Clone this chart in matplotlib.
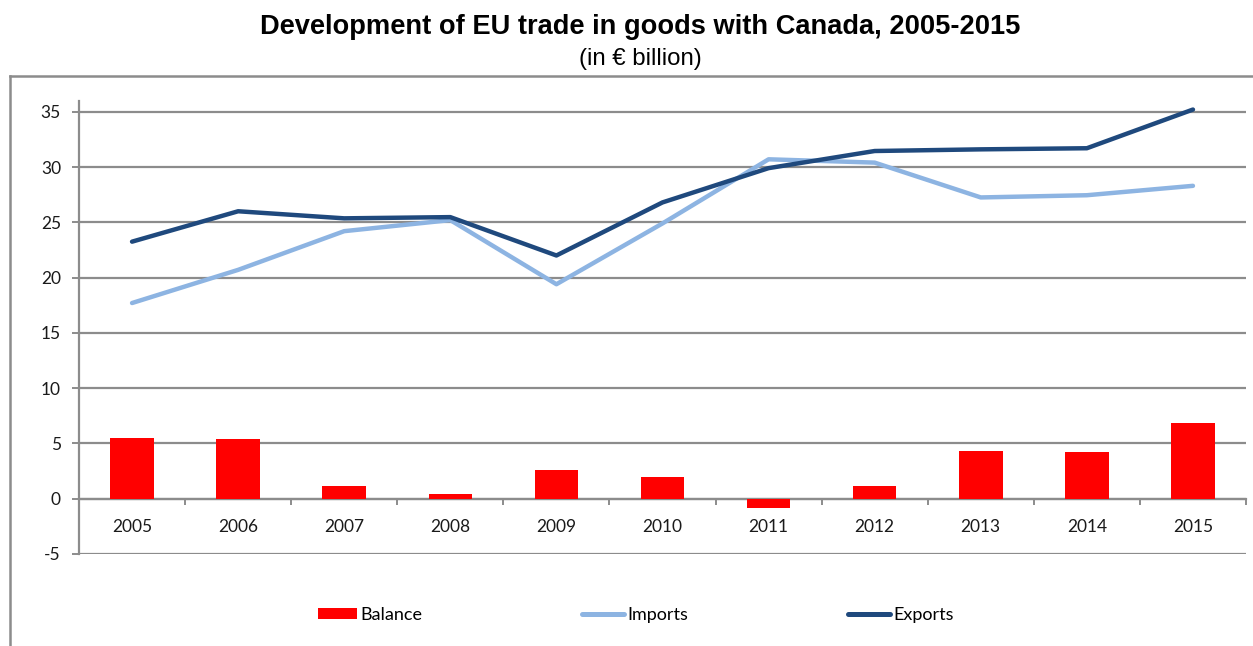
import matplotlib
matplotlib.use("Agg")
import matplotlib.pyplot as plt
from matplotlib.lines import Line2D
from matplotlib.patches import Patch
import numpy as np

plt.rcParams["axes.unicode_minus"] = False

years = ["2005", "2006", "2007", "2008", "2009", "2010", "2011", "2012", "2013", "2014", "2015"]
balance = [5.5, 5.36, 1.14, 0.39, 2.58, 2.0, -0.84, 1.14, 4.34, 4.2, 6.89]
imports = [17.7, 20.7, 24.2, 25.2, 19.4, 24.9, 30.7, 30.4, 27.25, 27.45, 28.3]
exports = [23.25, 26.0, 25.36, 25.47, 22.0, 26.8, 29.9, 31.45, 31.6, 31.7, 35.2]
yticks = [-5, 0, 5, 10, 15, 20, 25, 30, 35]

RED = "#FF0000"
LIGHT = "#8DB4E2"
DARK = "#1F497D"
GRID = "#8C8C8C"
FONT = "Lato"
TXT = "#1a1a1a"

W, H = 1253, 646
fig = plt.figure(figsize=(W / 100, H / 100), dpi=100)
ax = fig.add_axes([79 / W, 1 - 554 / H, (1246 - 79) / W, (554 - 100.7) / H])

x = np.arange(len(years))
ax.bar(x, balance, width=0.41, color=RED, zorder=3, label="Balance")
ax.plot(x, imports, color=LIGHT, lw=3.2, zorder=4, solid_capstyle="round", label="Imports")
ax.plot(x, exports, color=DARK, lw=3.2, zorder=5, solid_capstyle="round", label="Exports")

ax.set_xlim(-0.5, len(years) - 0.5)
ax.set_ylim(-5, 36)
ax.set_yticks(yticks)
ax.yaxis.grid(True, color=GRID, lw=1.6, zorder=0)
ax.set_axisbelow(True)

for s in ["top", "right"]:
    ax.spines[s].set_visible(False)
ax.spines["left"].set_color(GRID)
ax.spines["left"].set_linewidth(1.6)
ax.spines["bottom"].set_position(("data", 0))
ax.spines["bottom"].set_color(GRID)
ax.spines["bottom"].set_linewidth(1.6)

ax.set_xticks(x)
ax.set_xticklabels(years)
ax.set_xticks(np.arange(-0.5, len(years)), minor=True)
ax.tick_params(axis="x", which="major", length=0, pad=14.5, labelsize=12.5, labelcolor=TXT)
ax.tick_params(axis="x", which="minor", length=4.5, width=1.4, color=GRID, direction="out")
ax.tick_params(axis="y", length=5, width=1.4, color=GRID, pad=8, labelsize=12.5, labelcolor=TXT)
for lab in ax.get_xticklabels() + ax.get_yticklabels():
    lab.set_fontfamily(FONT)

fig.text(640 / W, 1 - 34.5 / H, "Development of EU trade in goods with Canada, 2005-2015",
         ha="center", va="baseline", fontsize=19.6, fontweight="bold", family="Liberation Sans")
fig.text(640 / W, 1 - 65 / H, "(in € billion)", ha="center", va="baseline",
         fontsize=17.3, family="Liberation Sans")

# outer frame
fig.add_artist(Line2D([10 / W, 10 / W], [0, 1 - 76 / H], color=GRID, lw=1.8, transform=fig.transFigure))
fig.add_artist(Line2D([10 / W, 1], [1 - 76 / H, 1 - 76 / H], color=GRID, lw=1.8, transform=fig.transFigure))

# legend entries
entries = [
    (Patch(facecolor=RED), "Balance", 318, 2.17),
    (Line2D([], [], color=LIGHT, lw=3.6, solid_capstyle="round"), "Imports", 582, 2.3),
    (Line2D([], [], color=DARK, lw=3.6, solid_capstyle="round"), "Exports", 848, 2.3),
]
for h, lbl, px, hl in entries:
    fig.legend([h], [lbl], loc="center left", bbox_to_anchor=(px / W, 1 - 615 / H),
               frameon=False, handlelength=hl, handleheight=0.55,
               handletextpad=0.2, borderpad=0, borderaxespad=0,
               prop={"family": FONT, "size": 13})

fig.savefig("out.png", dpi=100)
